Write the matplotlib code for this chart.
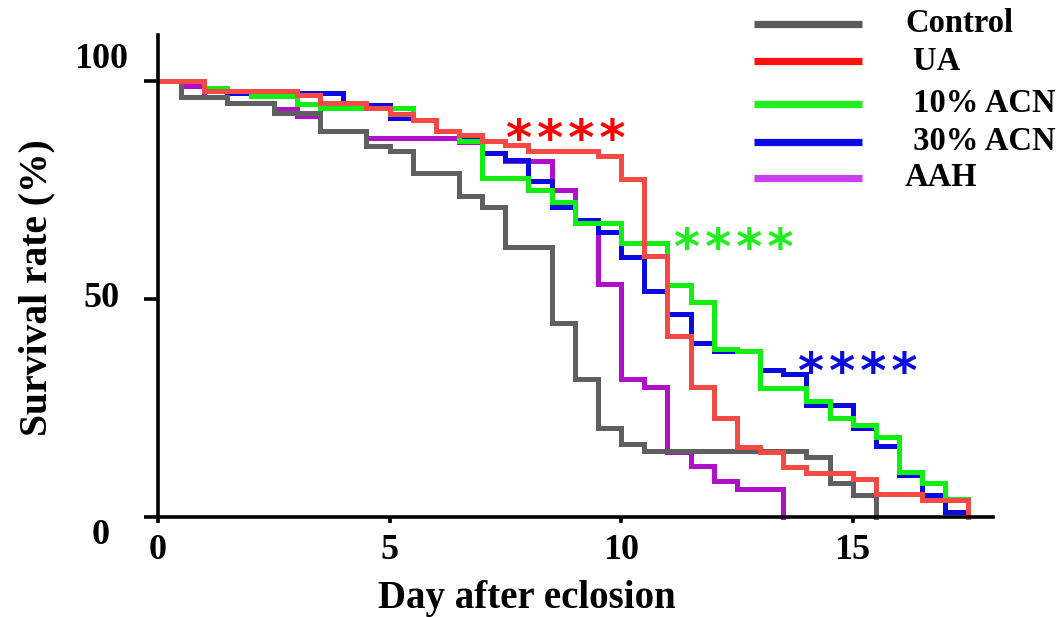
import matplotlib
matplotlib.use("Agg")
import matplotlib.pyplot as plt
from matplotlib.lines import Line2D
from matplotlib.transforms import ScaledTranslation

# ---------------- data (Kaplan-Meier style step curves) ----------------
groups = ["Control", " UA", " 10% ACN", " 30% ACN", "AAH"]

control_t = [0, 0.5, 1.5, 2.5, 3.5, 4.5, 5.0, 5.5, 6.5, 7.0, 7.5, 8.5, 9.0, 9.5, 10.0, 10.5, 14.0, 14.5, 15.0, 15.5]
control_s = [100, 96.4, 95.0, 92.7, 88.6, 85.0, 84.0, 78.8, 73.5, 71.0, 62.0, 44.5, 31.7, 20.4, 16.7, 15.2, 13.8, 7.8, 5.0, 0]

ua_t = [0, 1.0, 3.0, 3.5, 4.5, 5.0, 5.5, 6.0, 6.5, 7.0, 7.5, 8.0, 9.5, 10.0, 10.5, 11.0, 11.5, 12.0, 12.5, 13.0, 13.5, 14.0, 15.0, 15.5, 16.5, 17.5]
ua_s = [100, 97.6, 96.7, 95.0, 93.8, 92.4, 91.0, 88.5, 87.6, 86.3, 85.3, 84.0, 82.8, 77.5, 59.9, 41.5, 29.9, 22.7, 16.1, 15.0, 11.5, 10.2, 8.7, 5.3, 3.9, 0]

acn10_t = [0, 1.0, 1.5, 2.0, 3.0, 3.5, 5.5, 6.0, 6.5, 7.0, 8.0, 8.5, 9.0, 10.0, 11.0, 11.5, 12.0, 12.5, 13.0, 14.0, 14.5, 15.0, 15.5, 16.0, 16.5, 17.0, 17.5]
acn10_s = [100, 98.4, 97.6, 96.5, 94.6, 93.7, 91.0, 88.4, 86.3, 77.7, 75.0, 72.3, 67.5, 62.8, 53.2, 49.4, 38.5, 38.0, 29.6, 26.5, 22.7, 21.0, 18.4, 10.4, 7.8, 4.1, 0]

acn30_t = [0, 1.0, 1.5, 4.0, 5.0, 5.5, 6.0, 6.5, 7.0, 7.5, 8.0, 8.5, 9.0, 9.5, 10.0, 10.5, 11.0, 11.5, 12.0, 13.0, 13.5, 14.0, 15.0, 15.5, 16.0, 16.5, 17.0, 17.5]
acn30_s = [100, 98.4, 97.3, 94.5, 91.5, 91.0, 88.4, 86.5, 83.5, 81.9, 77.0, 71.0, 68.0, 65.4, 59.7, 51.7, 46.5, 39.9, 38.0, 33.7, 32.8, 25.7, 20.4, 16.3, 9.6, 5.0, 1.2, 0]

aah_t = [0, 0.5, 1.0, 1.5, 2.5, 3.0, 3.5, 4.5, 6.5, 7.0, 7.5, 8.5, 9.0, 9.5, 10.0, 10.5, 11.0, 11.5, 12.0, 12.5, 13.5]
aah_s = [100, 98.9, 96.4, 95.0, 93.6, 92.0, 88.6, 86.8, 86.0, 83.5, 81.5, 75.0, 68.0, 53.5, 31.7, 29.8, 15.0, 11.7, 8.3, 6.5, 0]

xticks = [0, 5, 10, 15]
yticks = [0, 50, 100]
stars = ["*\u200a*\u200a*\u200a*"] * 3
star_x = [8.8, 12.44, 15.12]
star_y = [89.6, 64.7, 36.2]

# ---------------- style ----------------
line_colors = ["#5f5f5f", "#f44a46", "#12ee12", "#0a0ae0", "#b010c8"]
legend_colors = ["#5a5a5a", "#ff1010", "#1ef01e", "#0a0ae6", "#c840ee"]
star_colors = ["#ff0000", "#1ef01e", "#0a0ae0"]
serif = "Liberation Serif"

W, H = 1062, 617
fig = plt.figure(figsize=(W / 100, H / 100), dpi=100)
ax = fig.add_axes([158 / W, (H - 517) / H, (993 - 158) / W, (517 - 35) / H])

series = [(control_t, control_s), (ua_t, ua_s), (acn10_t, acn10_s), (acn30_t, acn30_s), (aah_t, aah_s)]
zorders = [4, 5, 3, 2, 1]
for (t, s), c, z in zip(series, line_colors, zorders):
    ax.step(t, s, where="post", color=c, lw=3.6, zorder=z, clip_on=False, solid_joinstyle="miter")

ax.set_xlim(0, 18.03)
ax.set_ylim(0, 110.5)

for side in ["top", "right"]:
    ax.spines[side].set_visible(False)
for side in ["left", "bottom"]:
    ax.spines[side].set_linewidth(2.6)
    ax.spines[side].set_zorder(6)

ax.set_xticks(xticks)
ax.set_xticklabels([str(v) for v in xticks])
ax.set_yticks(yticks)
ax.set_yticklabels([str(v) for v in yticks])
ax.tick_params(axis="x", direction="out", length=4, width=2.6, pad=8)
ax.tick_params(axis="y", direction="out", length=10, width=2.6, pad=31)
for lab in ax.get_xticklabels() + ax.get_yticklabels():
    lab.set_fontfamily(serif)
    lab.set_fontweight("bold")
    lab.set_fontsize(26)
# y tick labels centered at a common x, with the original's vertical offsets
y_off = {0: -0.18, 50: 0.0, 100: 0.21}
for lab, v in zip(ax.get_yticklabels(), yticks):
    lab.set_horizontalalignment("center")
    lab.set_verticalalignment("center")
    lab.set_transform(lab.get_transform() + ScaledTranslation(0, y_off[v], fig.dpi_scale_trans))

ax.set_xlabel("Day after eclosion", fontfamily=serif, fontweight="bold", fontsize=28)
ax.xaxis.label.set_verticalalignment("center")
ax.xaxis.set_label_coords(0.442, -0.17)
ax.set_ylabel("Survival rate (%)", fontfamily=serif, fontweight="bold", fontsize=28.5)
ax.yaxis.label.set_verticalalignment("center")
ax.yaxis.set_label_coords(-0.145, 0.475)

for txt, x, y, c in zip(stars, star_x, star_y, star_colors):
    ax.annotate(txt, xy=(x, y), xytext=(0, -21), textcoords="offset points",
                ha="center", va="baseline", color=c, fontsize=36, fontweight="bold",
                fontfamily="DejaVu Sans", annotation_clip=False)

# legend drawn in figure pixel positions
leg_y = [24, 61, 104, 142, 178]
for name, c, y in zip(groups, legend_colors, leg_y):
    fig.add_artist(Line2D([754 / W, 862 / W], [1 - y / H, 1 - y / H], color=c, lw=5.2,
                          transform=fig.transFigure, solid_capstyle="butt"))
    fig.text(905 / W, 1 - y / H, name, fontfamily=serif, fontweight="bold", fontsize=23.5,
             ha="left", va="center")

fig.savefig("out.png", dpi=100)
